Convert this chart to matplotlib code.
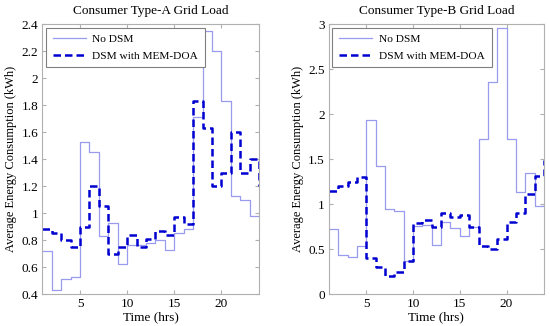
import numpy as np
import matplotlib
matplotlib.use("Agg")
from matplotlib import pyplot as plt

hours = np.arange(1, 25)

# Consumer type A
a_no_dsm = [0.72, 0.43, 0.51, 0.53, 1.53, 1.45, 0.83, 0.93, 0.62, 0.76, 0.76, 0.78,
            0.80, 0.73, 0.85, 0.88, 1.71, 2.35, 2.20, 1.83, 1.13, 1.10, 0.98, 0.98]
a_dsm = [0.88, 0.85, 0.80, 0.75, 0.90, 1.20, 1.05, 0.70, 0.75, 0.84, 0.75, 0.81,
         0.87, 0.84, 0.97, 0.92, 1.83, 1.63, 1.20, 1.30, 1.60, 1.30, 1.40, 1.20]

# Consumer type B
b_no_dsm = [0.72, 0.43, 0.41, 0.53, 1.93, 1.42, 0.95, 0.92, 0.37, 0.76, 0.77, 0.55,
            0.80, 0.73, 0.64, 0.75, 1.72, 2.36, 2.96, 1.72, 1.13, 1.34, 0.98, 1.00]
b_dsm = [1.15, 1.20, 1.25, 1.30, 0.40, 0.30, 0.20, 0.25, 0.37, 0.79, 0.82, 0.75,
         0.90, 0.86, 0.88, 0.75, 0.53, 0.50, 0.61, 0.80, 0.90, 1.11, 1.31, 1.49]

titles = ["Consumer Type-A Grid Load", "Consumer Type-B Grid Load"]
ylims = [(0.4, 2.4), (0, 3)]
yticks = [[0.4, 0.6, 0.8, 1, 1.2, 1.4, 1.6, 1.8, 2, 2.2, 2.4], [0, 0.5, 1, 1.5, 2, 2.5, 3]]
ytick_labels = [["0.4", "0.6", "0.8", "1", "1.2", "1.4", "1.6", "1.8", "2", "2.2", "2.4"],
                ["0", "0.5", "1", "1.5", "2", "2.5", "3"]]

plt.rcParams['font.family'] = ['Liberation Serif', 'DejaVu Serif']
plt.rcParams['font.size'] = 8.5

fig = plt.figure(figsize=(5.5, 3.26), dpi=100)
axes = [fig.add_axes([0.077, 0.098, 0.394, 0.828]),
        fig.add_axes([0.598, 0.098, 0.391, 0.828])]

grey = '#b0b0b0'
for i, (ax, no_dsm, dsm) in enumerate(zip(axes, [a_no_dsm, b_no_dsm], [a_dsm, b_dsm])):
    ax.plot(hours, no_dsm, drawstyle='steps-post', color='#9a9aee', lw=0.9, label='No DSM')
    ax.plot(hours, dsm, drawstyle='steps-post', color='#0000d0', lw=1.8,
            linestyle=(0, (3, 1.6)), label='DSM with MEM-DOA')
    ax.set_xlim(1, 24)
    ax.set_ylim(*ylims[i])
    ax.set_xticks([5, 10, 15, 20])
    ax.set_yticks(yticks[i])
    ax.set_yticklabels(ytick_labels[i])
    ax.set_title(titles[i], fontsize=9.5, pad=7)
    ax.set_xlabel('Time (hrs)', fontsize=9.5, labelpad=1)
    ax.set_ylabel('Average Energy Consumption (kWh)', fontsize=9, labelpad=3)
    for s in ax.spines.values():
        s.set_color(grey)
        s.set_linewidth(0.8)
    ax.tick_params(direction='in', length=3, color=grey, top=True, right=True,
                   labelsize=9.5, pad=3)
    leg = ax.legend(loc='upper left', fancybox=False, framealpha=1, edgecolor='#808080',
                    fontsize=8.2, handlelength=2.9, handletextpad=0.6, borderpad=0.6,
                    labelspacing=0.55, borderaxespad=0.3)
    leg.get_frame().set_linewidth(0.8)

fig.savefig('out.png', dpi=100)
